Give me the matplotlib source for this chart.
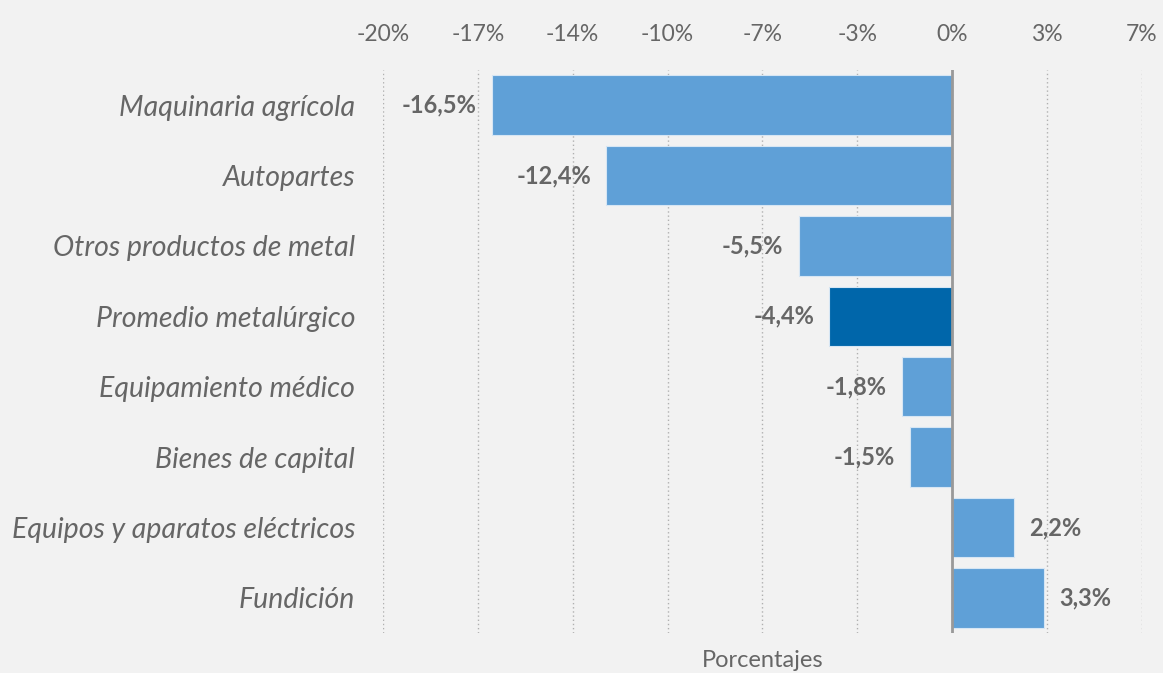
import numpy as np
import matplotlib
matplotlib.use("Agg")
import matplotlib.pyplot as plt

categorias = ["Maquinaria agrícola", "Autopartes", "Otros productos de metal",
              "Promedio metalúrgico", "Equipamiento médico", "Bienes de capital",
              "Equipos y aparatos eléctricos", "Fundición"]
valores = [-16.5, -12.4, -5.5, -4.4, -1.8, -1.5, 2.2, 3.3]
destacado = "Promedio metalúrgico"

plt.rcParams['font.family'] = ['Lato', 'DejaVu Sans']
gris = '#666666'
fondo = '#f2f2f2'

fig = plt.figure(figsize=(11.63, 6.73), dpi=100, facecolor=fondo)
ax = fig.add_axes([0.3293, 0.0594, 0.6526, 0.8366], facecolor=fondo)

y = np.arange(len(categorias))
colores = ['#0066aa' if c == destacado else '#5fa0d7' for c in categorias]
ax.barh(y, valores, height=0.845, color=colores, edgecolor='#d6e6f4',
        linewidth=0.8, zorder=3)

# etiquetas de datos
for yi, v in zip(y, valores):
    txt = f"{v:.1f}%".replace('.', ',')
    if v < 0:
        ax.annotate(txt, (v, yi), xytext=(-11, 0), textcoords='offset points',
                    ha='right', va='center', fontsize=17, fontweight='bold', color=gris)
    else:
        ax.annotate(txt, (v, yi), xytext=(11, 0), textcoords='offset points',
                    ha='left', va='center', fontsize=17, fontweight='bold', color=gris)

ax.set_ylim(len(categorias) - 0.5, -0.5)
ax.set_yticks(y)
ax.set_yticklabels(categorias, fontsize=20.5, style='italic', color=gris)

ticks = np.arange(-6, 3) * 3.4
ax.set_xlim(-20.4, 6.8)
ax.set_xticks(ticks)
ax.set_xticklabels([f"{round(t)}%" for t in ticks], fontsize=16.5, color=gris)
ax.xaxis.tick_top()
ax.tick_params(axis='x', length=0, pad=18)
ax.tick_params(axis='y', length=0, pad=20)

ax.grid(axis='x', linestyle=(0, (1, 2)), color='#b0b0b0', linewidth=1, zorder=0)
ax.axvline(0, color='#999999', linewidth=2, zorder=4)
for s in ax.spines.values():
    s.set_visible(False)

fig.text(0.6555, 0.018, "Porcentajes", ha='center', va='center', fontsize=17, color=gris)

fig.savefig("out.png", dpi=100, facecolor=fondo)
